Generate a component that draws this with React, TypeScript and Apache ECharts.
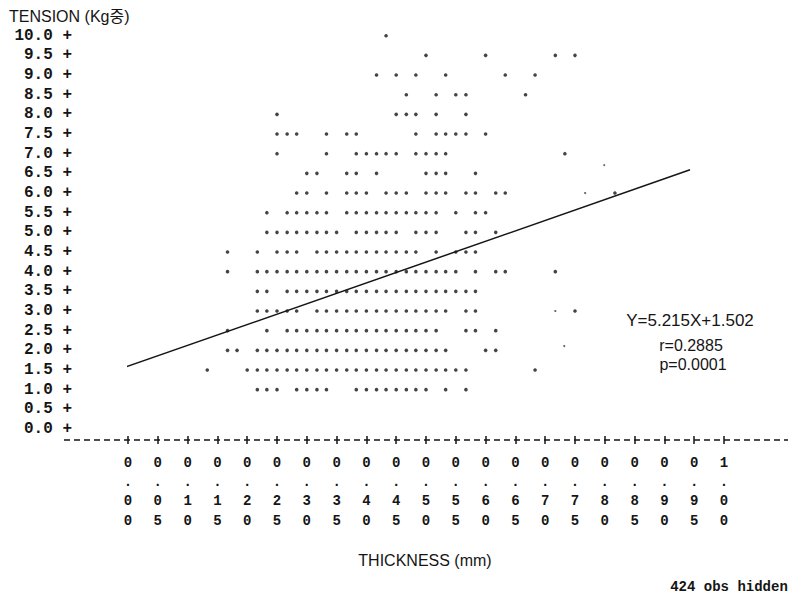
import React, { useEffect, useRef } from "react";
import * as echarts from "echarts";

// Tension rows (Kg) of the line-printer plot
const tensionRows = [10.0, 9.5, 9.0, 8.5, 8.0, 7.5, 7.0, 6.5, 6.0, 5.5, 5.0, 4.5, 4.0, 3.5, 3.0, 2.5, 2.0, 1.5, 1.0];

// Thickness (mm) of each plotted observation, one list per tension row
const t10_0 = [0.433];
const t9_5 = [0.5, 0.6, 0.717, 0.75];
const t9_0 = [0.417, 0.45, 0.483, 0.533, 0.633, 0.683];
const t8_5 = [0.467, 0.517, 0.55, 0.567, 0.667];
const t8_0 = [0.25, 0.45, 0.467, 0.483, 0.517, 0.567];
const t7_5 = [0.25, 0.267, 0.283, 0.333, 0.367, 0.383, 0.483, 0.517, 0.533, 0.55, 0.567, 0.6];
const t7_0 = [0.25, 0.333, 0.383, 0.4, 0.417, 0.433, 0.45, 0.483, 0.5, 0.517, 0.533, 0.733];
const t6_5 = [0.3, 0.317, 0.367, 0.383, 0.417, 0.5, 0.517, 0.533, 0.583];
const t6_0 = [0.283, 0.3, 0.333, 0.367, 0.383, 0.4, 0.433, 0.45, 0.467, 0.5, 0.517, 0.533, 0.567, 0.583, 0.617, 0.633, 0.817];
const t5_5 = [0.233, 0.267, 0.283, 0.3, 0.317, 0.333, 0.367, 0.383, 0.4, 0.417, 0.433, 0.45, 0.467, 0.483, 0.5, 0.517, 0.55, 0.583, 0.6];
const t5_0 = [0.233, 0.25, 0.267, 0.283, 0.3, 0.317, 0.333, 0.35, 0.383, 0.4, 0.417, 0.433, 0.45, 0.483, 0.5, 0.517, 0.567, 0.583, 0.617];
const t4_5 = [0.167, 0.217, 0.25, 0.267, 0.283, 0.317, 0.333, 0.35, 0.367, 0.383, 0.4, 0.417, 0.433, 0.45, 0.467, 0.483, 0.517, 0.55, 0.567, 0.583];
const t4_0 = [0.167, 0.217, 0.233, 0.25, 0.267, 0.283, 0.3, 0.317, 0.333, 0.35, 0.367, 0.383, 0.4, 0.417, 0.433, 0.45, 0.467, 0.483, 0.5, 0.517, 0.533, 0.55, 0.583, 0.617, 0.633, 0.717];
const t3_5 = [0.217, 0.233, 0.267, 0.283, 0.3, 0.317, 0.333, 0.35, 0.367, 0.383, 0.4, 0.417, 0.433, 0.45, 0.467, 0.483, 0.5, 0.517, 0.533, 0.55, 0.567, 0.583];
const t3_0 = [0.217, 0.233, 0.25, 0.267, 0.283, 0.317, 0.333, 0.35, 0.367, 0.383, 0.4, 0.417, 0.433, 0.45, 0.467, 0.483, 0.5, 0.517, 0.533, 0.567, 0.583, 0.75];
const t2_5 = [0.167, 0.233, 0.267, 0.283, 0.3, 0.317, 0.333, 0.35, 0.367, 0.383, 0.4, 0.417, 0.433, 0.45, 0.467, 0.483, 0.5, 0.517, 0.567, 0.583, 0.617];
const t2_0 = [0.167, 0.183, 0.217, 0.233, 0.25, 0.267, 0.283, 0.3, 0.317, 0.333, 0.35, 0.367, 0.383, 0.4, 0.417, 0.433, 0.45, 0.467, 0.483, 0.5, 0.517, 0.533, 0.6, 0.617];
const t1_5 = [0.133, 0.2, 0.217, 0.233, 0.25, 0.267, 0.283, 0.3, 0.317, 0.333, 0.35, 0.367, 0.383, 0.4, 0.417, 0.433, 0.45, 0.467, 0.483, 0.5, 0.517, 0.533, 0.55, 0.567, 0.683];
const t1_0 = [0.217, 0.233, 0.25, 0.283, 0.3, 0.317, 0.333, 0.383, 0.4, 0.417, 0.433, 0.45, 0.467, 0.483, 0.5, 0.533, 0.567];

const rowThickness = [t10_0, t9_5, t9_0, t8_5, t8_0, t7_5, t7_0, t6_5, t6_0, t5_5, t5_0, t4_5, t4_0, t3_5, t3_0, t2_5, t2_0, t1_5, t1_0];

// Faint (lightly printed) marks: [thickness, tension]
const faintPoints = [
  [0.767, 6.0],
  [0.799, 6.71],
  [0.717, 3.0],
  [0.732, 2.11],
];

// Regression line end points as drawn: [thickness, tension]
const fitLine = [
  [-0.0106, 1.54],
  [0.943, 6.59],
];

const equationText = "Y=5.215X+1.502";
const rText = "r=0.2885";
const pText = "p=0.0001";
const yTitle = "TENSION (Kg중)";
const xTitle = "THICKNESS (mm)";
const hiddenNote = "424 obs hidden";

const MONO = "'Liberation Mono', 'DejaVu Sans Mono', monospace";
const SANS = "'Liberation Sans', 'Noto Sans CJK KR', sans-serif";
const INK = "#151515";

export default function App() {
  const ref = useRef<HTMLDivElement>(null);

  useEffect(() => {
    if (!ref.current) return;
    const chart = echarts.init(ref.current, null, { renderer: "svg" });

    const points: number[][] = [];
    tensionRows.forEach((v, i) => {
      rowThickness[i].forEach((t) => points.push([t, v]));
    });

    const xCommon = {
      type: "value" as const,
      min: 0,
      max: 1,
      interval: 0.05,
      position: "bottom" as const,
      axisLine: { show: false },
      splitLine: { show: false },
    };

    chart.setOption({
      animation: false,
      backgroundColor: "#ffffff",
      grid: [
        { left: 128, right: 64, top: 35.7, bottom: 169, containLabel: false },
        { left: 128, right: 64, top: 439, height: 1, containLabel: false },
      ],
      xAxis: [
        { ...xCommon, gridIndex: 0, show: false },
        {
          ...xCommon,
          gridIndex: 1,
          axisTick: { show: true, length: 4, lineStyle: { color: INK, width: 1.5 } },
          axisLabel: {
            show: true,
            margin: 13,
            formatter: (v: number) => v.toFixed(2).split("").join("\n"),
            fontFamily: MONO,
            fontSize: 14,
            lineHeight: 19.3,
            color: INK,
            fontWeight: "bold",
          },
        },
        {
          ...xCommon,
          gridIndex: 1,
          axisTick: { show: true, inside: true, length: 4, lineStyle: { color: INK, width: 1.5 } },
          axisLabel: { show: false },
        },
      ],
      yAxis: [
        {
          type: "value",
          gridIndex: 0,
          min: 0,
          max: 10,
          interval: 0.5,
          axisLine: { show: false },
          axisTick: { show: false },
          splitLine: { show: false },
          axisLabel: {
            margin: 56,
            formatter: (v: number) => v.toFixed(1) + " +",
            fontFamily: MONO,
            fontSize: 16,
            color: INK,
            fontWeight: "bold",
          },
        },
        { type: "value", gridIndex: 1, show: false, min: 0, max: 1 },
      ],
      series: [
        {
          type: "scatter",
          xAxisIndex: 0,
          yAxisIndex: 0,
          data: points,
          symbol: "circle",
          symbolSize: 3.6,
          itemStyle: { color: INK },
        },
        {
          type: "scatter",
          xAxisIndex: 0,
          yAxisIndex: 0,
          data: faintPoints,
          symbol: "circle",
          symbolSize: 2.2,
          itemStyle: { color: "#444" },
        },
        {
          type: "line",
          xAxisIndex: 0,
          yAxisIndex: 0,
          data: fitLine,
          clip: false,
          symbol: "none",
          lineStyle: { color: INK, width: 1.5 },
        },
      ],
      graphic: [
        {
          type: "line",
          shape: { x1: 64, y1: 440, x2: 788, y2: 440 },
          style: { stroke: INK, lineWidth: 1.3, lineDash: [6, 4] },
        },
        {
          type: "text",
          x: 9,
          y: 16,
          style: { text: yTitle, font: `16px ${SANS}`, fill: INK, align: "left", verticalAlign: "middle" },
        },
        {
          type: "text",
          x: 425,
          y: 560,
          style: { text: xTitle, font: `16px ${SANS}`, fill: INK, align: "center", verticalAlign: "middle" },
        },
        {
          type: "text",
          x: 729,
          y: 587,
          style: { text: hiddenNote, font: `bold 14px ${MONO}`, fill: INK, align: "center", verticalAlign: "middle" },
        },
        {
          type: "text",
          x: 690,
          y: 320,
          style: { text: equationText, font: `17px ${SANS}`, fill: INK, align: "center", verticalAlign: "middle" },
        },
        {
          type: "text",
          x: 691,
          y: 345,
          style: { text: rText, font: `16px ${SANS}`, fill: INK, align: "center", verticalAlign: "middle" },
        },
        {
          type: "text",
          x: 693,
          y: 364,
          style: { text: pText, font: `16px ${SANS}`, fill: INK, align: "center", verticalAlign: "middle" },
        },
      ],
    });

    return () => chart.dispose();
  }, []);

  return (
    <div
      ref={ref}
      style={{ position: "fixed", left: 0, top: 0, width: 788, height: 598, background: "#fff" }}
    />
  );
}
